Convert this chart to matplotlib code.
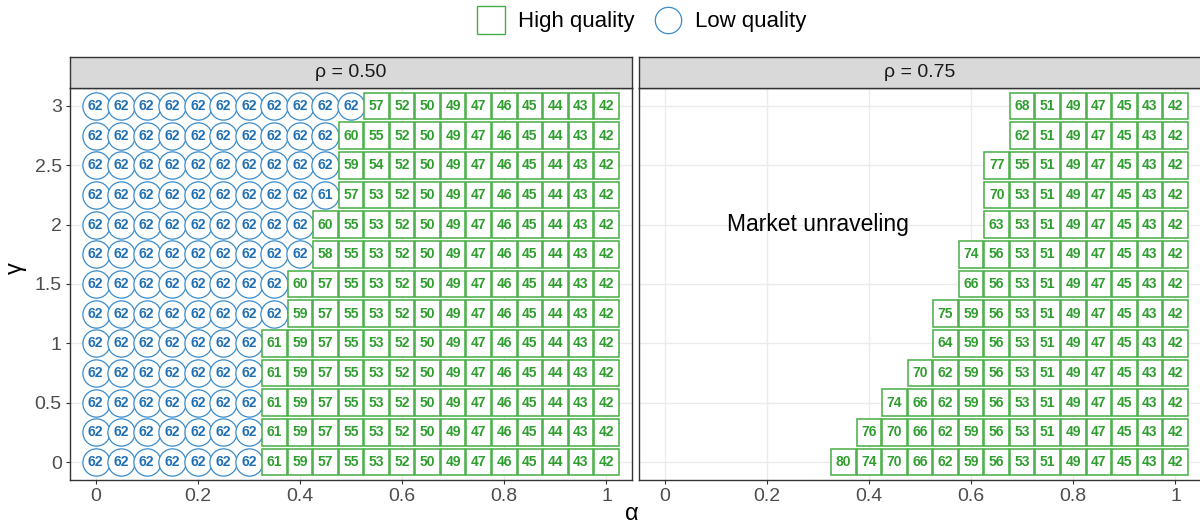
import matplotlib.pyplot as plt
from matplotlib.patches import Rectangle
from matplotlib.lines import Line2D

plt.rcParams['font.family'] = ['Liberation Sans', 'DejaVu Sans']

# grid of alpha (columns) and gamma (rows, top to bottom)
alpha = [0.0, 0.05, 0.1, 0.15, 0.2, 0.25, 0.3, 0.35, 0.4, 0.45, 0.5,
         0.55, 0.6, 0.65, 0.7, 0.75, 0.8, 0.85, 0.9, 0.95, 1.0]
gamma = [3.0, 2.75, 2.5, 2.25, 2.0, 1.75, 1.5, 1.25, 1.0, 0.75, 0.5, 0.25, 0.0]

# rho = 0.50: low-quality values start at alpha = 0, high-quality run up to alpha = 1
low_050 = [
    [62, 62, 62, 62, 62, 62, 62, 62, 62, 62, 62],
    [62, 62, 62, 62, 62, 62, 62, 62, 62, 62],
    [62, 62, 62, 62, 62, 62, 62, 62, 62, 62],
    [62, 62, 62, 62, 62, 62, 62, 62, 62, 61],
    [62, 62, 62, 62, 62, 62, 62, 62, 62],
    [62, 62, 62, 62, 62, 62, 62, 62, 62],
    [62, 62, 62, 62, 62, 62, 62, 62],
    [62, 62, 62, 62, 62, 62, 62, 62],
    [62, 62, 62, 62, 62, 62, 62],
    [62, 62, 62, 62, 62, 62, 62],
    [62, 62, 62, 62, 62, 62, 62],
    [62, 62, 62, 62, 62, 62, 62],
    [62, 62, 62, 62, 62, 62, 62],
]
high_050 = [
    [57, 52, 50, 49, 47, 46, 45, 44, 43, 42],
    [60, 55, 52, 50, 49, 47, 46, 45, 44, 43, 42],
    [59, 54, 52, 50, 49, 47, 46, 45, 44, 43, 42],
    [57, 53, 52, 50, 49, 47, 46, 45, 44, 43, 42],
    [60, 55, 53, 52, 50, 49, 47, 46, 45, 44, 43, 42],
    [58, 55, 53, 52, 50, 49, 47, 46, 45, 44, 43, 42],
    [60, 57, 55, 53, 52, 50, 49, 47, 46, 45, 44, 43, 42],
    [59, 57, 55, 53, 52, 50, 49, 47, 46, 45, 44, 43, 42],
    [61, 59, 57, 55, 53, 52, 50, 49, 47, 46, 45, 44, 43, 42],
    [61, 59, 57, 55, 53, 52, 50, 49, 47, 46, 45, 44, 43, 42],
    [61, 59, 57, 55, 53, 52, 50, 49, 47, 46, 45, 44, 43, 42],
    [61, 59, 57, 55, 53, 52, 50, 49, 47, 46, 45, 44, 43, 42],
    [61, 59, 57, 55, 53, 52, 50, 49, 47, 46, 45, 44, 43, 42],
]

# rho = 0.75: only high-quality cells, the rest of the grid unravels
low_075 = [[] for _ in gamma]
high_075 = [
    [68, 51, 49, 47, 45, 43, 42],
    [62, 51, 49, 47, 45, 43, 42],
    [77, 55, 51, 49, 47, 45, 43, 42],
    [70, 53, 51, 49, 47, 45, 43, 42],
    [63, 53, 51, 49, 47, 45, 43, 42],
    [74, 56, 53, 51, 49, 47, 45, 43, 42],
    [66, 56, 53, 51, 49, 47, 45, 43, 42],
    [75, 59, 56, 53, 51, 49, 47, 45, 43, 42],
    [64, 59, 56, 53, 51, 49, 47, 45, 43, 42],
    [70, 62, 59, 56, 53, 51, 49, 47, 45, 43, 42],
    [74, 66, 62, 59, 56, 53, 51, 49, 47, 45, 43, 42],
    [76, 70, 66, 62, 59, 56, 53, 51, 49, 47, 45, 43, 42],
    [80, 74, 70, 66, 62, 59, 56, 53, 51, 49, 47, 45, 43, 42],
]

panels = [("ρ = 0.50", low_050, high_050), ("ρ = 0.75", low_075, high_075)]

GREEN_EDGE = "#45ad45"
GREEN_TEXT = "#2f9e2f"
BLUE_EDGE = "#3a8cca"
BLUE_TEXT = "#1f6fb4"
W = 1200
H = 526

fig = plt.figure(figsize=(12, 5.26), dpi=100)

panel_left = [70, 639]
for k, (title, low, high) in enumerate(panels):
    ax = fig.add_axes([panel_left[k] / W, 46 / H, 562 / W, 392 / H])
    ax.set_xlim(-0.05, 1.05)
    ax.set_ylim(-0.15, 3.15)
    ax.set_xticks([0, 0.2, 0.4, 0.6, 0.8, 1.0])
    ax.set_xticklabels(["0", "0.2", "0.4", "0.6", "0.8", "1"])
    ax.set_yticks([0, 0.5, 1, 1.5, 2, 2.5, 3])
    ax.set_yticklabels(["0", "0.5", "1", "1.5", "2", "2.5", "3"])
    ax.grid(True, color="#ebebeb", lw=1.0, zorder=0)
    ax.set_axisbelow(True)
    ax.tick_params(labelsize=14, colors="#333333", labelcolor="#4d4d4d",
                   length=3, width=0.8, pad=3)
    if k == 1:
        ax.tick_params(axis="y", length=0, labelleft=False)
    for s in ax.spines.values():
        s.set_color("#333333")
        s.set_linewidth(1.0)

    for row, g in enumerate(gamma):
        # low-quality circles from the left edge
        xs = alpha[:len(low[row])]
        if xs:
            ax.scatter(xs, [g] * len(xs), s=385, marker="o", facecolors="white",
                       edgecolors=BLUE_EDGE, linewidths=0.9, zorder=2)
            for x, v in zip(xs, low[row]):
                ax.text(x, g, str(v), ha="center", va="center", fontsize=10,
                        fontweight="bold", color=BLUE_TEXT, zorder=3)
        # high-quality boxes ending at alpha = 1
        xh = alpha[len(alpha) - len(high[row]):]
        for x, v in zip(xh, high[row]):
            ax.add_patch(Rectangle((x - 0.024, g - 0.112), 0.048, 0.224,
                                   facecolor="white", edgecolor=GREEN_EDGE,
                                   lw=1.1, zorder=4))
            ax.text(x, g, str(v), ha="center", va="center", fontsize=10,
                    fontweight="bold", color=GREEN_TEXT, zorder=5)

    if k == 1:
        ax.text(0.3, 2.0, "Market unraveling", ha="center", va="center",
                fontsize=16.5, color="black")

    # facet strip
    sax = fig.add_axes([panel_left[k] / W, 438 / H, 562 / W, 31 / H])
    sax.set_facecolor("#d9d9d9")
    sax.set_xticks([])
    sax.set_yticks([])
    for s in sax.spines.values():
        s.set_color("#333333")
        s.set_linewidth(1.0)
    sax.text(0.5, 0.5, title, transform=sax.transAxes, ha="center",
             va="center", fontsize=14, color="#1a1a1a")

fig.text(632 / W, 1 - 514 / H, "α", ha="center", va="center", fontsize=17)
fig.text(16 / W, 1 - 268 / H, "γ", ha="center", va="center", fontsize=17,
         rotation=90)

handles = [
    Line2D([], [], ls="none", marker="s", markersize=20, markerfacecolor="white",
           markeredgecolor=GREEN_EDGE, markeredgewidth=1.0),
    Line2D([], [], ls="none", marker="o", markersize=19, markerfacecolor="white",
           markeredgecolor=BLUE_EDGE, markeredgewidth=0.9),
]
fig.legend(handles, ["High quality", "Low quality"], loc="center",
           bbox_to_anchor=(642 / W, 1 - 22 / H), ncol=2, frameon=False,
           fontsize=16, handlelength=1.2, handletextpad=0.6, columnspacing=0.9)

fig.savefig("out.png", dpi=100)
